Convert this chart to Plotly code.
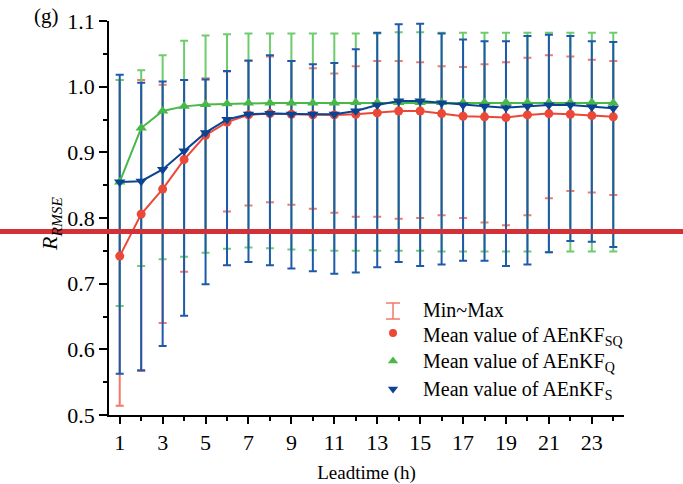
import plotly.graph_objects as go

# ---------------- data ----------------
leadtime = list(range(1, 25))

mean_sq = [0.742, 0.806, 0.844, 0.889, 0.926, 0.946, 0.957, 0.959, 0.958, 0.957, 0.957, 0.958,
           0.960, 0.963, 0.963, 0.959, 0.955, 0.954, 0.953, 0.957, 0.959, 0.958, 0.956, 0.954]
max_sq = [1.010, 1.010, 1.003, 1.010, 1.013, 1.023, 1.039, 1.046, 1.039, 1.028, 1.020, 1.031,
          1.039, 1.039, 1.037, 1.031, 1.030, 1.034, 1.037, 1.044, 1.048, 1.046, 1.041, 1.039]
min_sq = [0.514, 0.567, 0.640, 0.718, 0.778, 0.810, 0.819, 0.824, 0.820, 0.814, 0.808, 0.802,
          0.802, 0.799, 0.800, 0.804, 0.800, 0.793, 0.789, 0.804, 0.830, 0.841, 0.839, 0.835]

mean_q = [0.855, 0.937, 0.963, 0.970, 0.973, 0.974, 0.975, 0.975, 0.975, 0.975, 0.975, 0.976,
          0.976, 0.976, 0.976, 0.976, 0.976, 0.976, 0.976, 0.976, 0.976, 0.976, 0.976, 0.975]
max_q = [1.010, 1.025, 1.048, 1.070, 1.078, 1.080, 1.081, 1.081, 1.081, 1.081, 1.081, 1.081,
         1.081, 1.083, 1.083, 1.082, 1.082, 1.082, 1.082, 1.082, 1.082, 1.082, 1.082, 1.082]
min_q = [0.666, 0.727, 0.737, 0.741, 0.747, 0.753, 0.755, 0.754, 0.752, 0.751, 0.750, 0.750,
         0.750, 0.750, 0.750, 0.749, 0.749, 0.749, 0.749, 0.749, 0.748, 0.749, 0.749, 0.749]

mean_s = [0.855, 0.856, 0.874, 0.902, 0.930, 0.950, 0.958, 0.959, 0.958, 0.958, 0.958, 0.963,
          0.972, 0.978, 0.978, 0.975, 0.972, 0.970, 0.968, 0.970, 0.972, 0.972, 0.969, 0.967]
max_s = [1.018, 1.006, 1.008, 1.010, 1.011, 1.024, 1.040, 1.048, 1.039, 1.034, 1.036, 1.057,
         1.082, 1.095, 1.096, 1.081, 1.072, 1.069, 1.069, 1.077, 1.079, 1.077, 1.069, 1.068]
min_s = [0.563, 0.568, 0.605, 0.651, 0.699, 0.728, 0.733, 0.728, 0.723, 0.719, 0.715, 0.717,
         0.725, 0.733, 0.727, 0.729, 0.735, 0.735, 0.727, 0.729, 0.748, 0.765, 0.764, 0.756]

legend_labels = ["Min~Max",
                 "Mean value of AEnKF<sub>SQ</sub>",
                 "Mean value of AEnKF<sub>Q</sub>",
                 "Mean value of AEnKF<sub>S</sub>"]

# ---------------- styles ----------------
FONT = "Liberation Serif"
RED, RED_EB = "rgb(236,72,56)", "rgb(242,120,108)"
GREEN, GREEN_EB = "rgb(72,184,72)", "rgb(110,204,110)"
BLUE, BLUE_EB = "rgb(12,68,148)", "rgb(30,90,170)"

series = [
    (mean_sq, max_sq, min_sq, RED, RED_EB, "circle", 9),
    (mean_q, max_q, min_q, GREEN, GREEN_EB, "triangle-up", 10),
    (mean_s, max_s, min_s, BLUE, BLUE_EB, "triangle-down", 10),
]

fig = go.Figure()

# error bars first (red, green, blue)
for mean, mx, mn, col, ebcol, sym, sz in series:
    fig.add_trace(go.Scatter(
        x=leadtime, y=mean, mode="markers",
        marker=dict(size=1, color="rgba(0,0,0,0)"),
        error_y=dict(type="data", symmetric=False,
                     array=[a - m for a, m in zip(mx, mean)],
                     arrayminus=[m - b for m, b in zip(mean, mn)],
                     color=ebcol, thickness=2, width=4),
        showlegend=False, hoverinfo="skip"))

# mean lines on top
for mean, mx, mn, col, ebcol, sym, sz in series:
    fig.add_trace(go.Scatter(
        x=leadtime, y=mean, mode="lines+markers",
        line=dict(color=col, width=2),
        marker=dict(symbol=sym, size=sz, color=col),
        showlegend=False))

# ---------------- manual legend (overlay axis in plot-area units) ----------------
leg_x = 0.5515
leg_rows = [0.264, 0.2081, 0.137, 0.066]
fig.add_trace(go.Scatter(
    x=[leg_x], y=[leg_rows[0]], mode="markers", xaxis="x2", yaxis="y2",
    marker=dict(size=1, color="rgba(0,0,0,0)"),
    error_y=dict(type="constant", value=0.0203, color=RED_EB, thickness=1.5, width=7),
    showlegend=False, hoverinfo="skip"))
for (mean, mx, mn, col, ebcol, sym, sz), ry in zip(series, leg_rows[1:]):
    fig.add_trace(go.Scatter(
        x=[leg_x], y=[ry], mode="markers", xaxis="x2", yaxis="y2",
        marker=dict(symbol=sym, size=sz - 1, color=col),
        showlegend=False, hoverinfo="skip"))

annotations = []
text_y = [0.267, 0.200, 0.134, 0.063]
for lab, ty in zip(legend_labels, text_y):
    annotations.append(dict(
        x=0.6058, y=ty, xref="paper", yref="paper", text=lab, showarrow=False,
        xanchor="left", yanchor="middle", font=dict(family=FONT, size=20, color="black")))

# panel label and y title
annotations.append(dict(x=-0.1495, y=1.013, xref="paper", yref="paper", text="(g)",
                        showarrow=False, xanchor="left", yanchor="middle",
                        font=dict(family=FONT, size=21, color="black")))
annotations.append(dict(x=-0.1126, y=0.485, xref="paper", yref="paper",
                        text="<i>R</i><sub><i>RMSE</i></sub>", textangle=-90,
                        showarrow=False, xanchor="center", yanchor="middle",
                        font=dict(family=FONT, size=22, color="black")))

fig.update_layout(
    template="none",
    width=683, height=484,
    margin=dict(l=109, r=59, t=21, b=69),
    paper_bgcolor="white", plot_bgcolor="white",
    font=dict(family=FONT, color="black"),
    showlegend=False,
    annotations=annotations,
    shapes=[dict(type="line", xref="paper", yref="paper",
                 x0=-0.2117, x1=1.1146, y0=0.4657, y1=0.4657,
                 line=dict(color="rgb(210,50,55)", width=5))],
    xaxis=dict(range=[0.5, 24.5], tick0=1, dtick=2, ticks="outside", ticklen=7,
               tickwidth=1.5, tickcolor="black", showline=True, linecolor="black",
               linewidth=1.5, showgrid=False, zeroline=False, automargin=False,
               tickfont=dict(family=FONT, size=22),
               minor=dict(dtick=1, tick0=0, ticks="outside", ticklen=4,
                          tickwidth=1.5, tickcolor="black", showgrid=False),
               title=dict(text="Leadtime (h)", font=dict(family=FONT, size=19), standoff=14)),
    yaxis=dict(range=[0.5, 1.1], tick0=0.5, dtick=0.1, ticks="outside", ticklen=8,
               tickwidth=1.5, tickcolor="black", showline=True, linecolor="black",
               linewidth=1.5, showgrid=False, zeroline=False, tickformat=".1f",
               automargin=False, tickfont=dict(family=FONT, size=22),
               minor=dict(dtick=0.05, tick0=0.5, ticks="outside", ticklen=4,
                          tickwidth=1.5, tickcolor="black", showgrid=False)),
    xaxis2=dict(range=[0, 1], overlaying="x", visible=False, fixedrange=True),
    yaxis2=dict(range=[0, 1], overlaying="y", visible=False, fixedrange=True),
)

fig.write_html("out.html")
